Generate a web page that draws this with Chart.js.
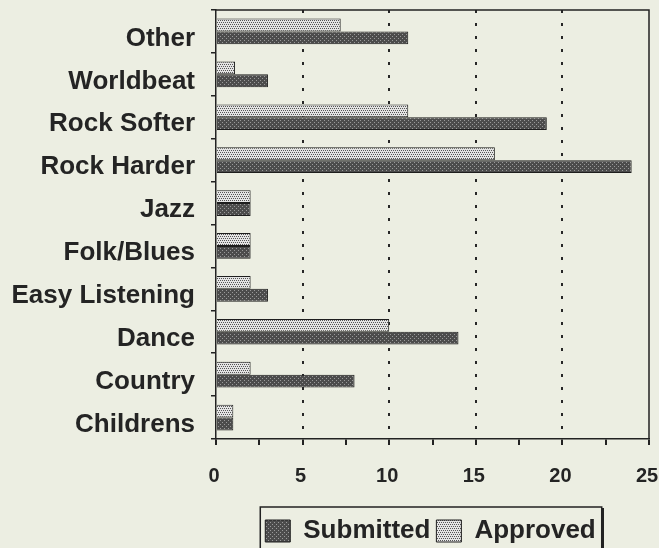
<!DOCTYPE html>
<html>
<head>
<meta charset="utf-8">
<script src="https://cdn.jsdelivr.net/npm/chart.js@4"></script>
<style>
  html, body { margin: 0; padding: 0; background: #eceee2; }
  #wrap { width: 659px; height: 548px; position: relative; }
</style>
</head>
<body>
<div id="wrap"><canvas id="genreChart"></canvas></div>
<script>
// values
const categories = ['Other', 'Worldbeat', 'Rock Softer', 'Rock Harder', 'Jazz',
    'Folk/Blues', 'Easy Listening', 'Dance', 'Country', 'Childrens'];
const approved = [7.2, 1.1, 11.1, 16.1, 2, 2, 2, 10, 2, 1];
const submitted = [11.1, 3, 19.1, 24, 2, 2, 3, 14, 8, 1];
const xTicks = [0, 5, 10, 15, 20, 25];

const inkColor = '#242424';
const paperColor = '#eceee2';

// small dotted fills like the old print patterns
function makePattern(base, dot, spots) {
    const c = document.createElement('canvas');
    c.width = 4;
    c.height = 4;
    const g = c.getContext('2d');
    g.fillStyle = base;
    g.fillRect(0, 0, 4, 4);
    g.fillStyle = dot;
    spots.forEach(p => g.fillRect(p[0], p[1], 1, 1));
    return g.createPattern(c, 'repeat');
}

const submittedFill = makePattern('#4c4c4c', '#9a9a9a', [[0, 0], [2, 2]]);
const approvedFill = makePattern('#e4e4e4', '#555555', [[0, 0], [2, 0], [1, 2], [3, 2]]);

const paperPlugin = {
    id: 'paper',
    beforeDraw(chart) {
        const ctx = chart.ctx;
        ctx.save();
        ctx.fillStyle = paperColor;
        ctx.fillRect(0, 0, chart.width, chart.height);
        ctx.restore();
    }
};

// frame round the plot area + box round the legend
const framePlugin = {
    id: 'frame',
    afterLayout(chart) {
        const lg = chart.legend;
        lg.left += 106;
        lg.right += 106;
    },
    afterDraw(chart) {
        const ctx = chart.ctx;
        const a = chart.chartArea;
        ctx.save();
        ctx.strokeStyle = '#222';
        ctx.lineWidth = 1.5;
        ctx.beginPath();
        ctx.moveTo(a.left, a.top);
        ctx.lineTo(a.right, a.top);
        ctx.lineTo(a.right, a.bottom);
        ctx.stroke();

        const boxes = chart.legend.legendHitBoxes;
        if (boxes && boxes.length) {
            let minX = Infinity, maxX = -Infinity, minY = Infinity;
            boxes.forEach(b => {
                minX = Math.min(minX, b.left);
                maxX = Math.max(maxX, b.left + b.width);
                minY = Math.min(minY, b.top);
            });
            ctx.lineWidth = 1.5;
            ctx.strokeRect(minX - 5, minY - 11, (maxX - minX) + 11, 80);
            ctx.lineWidth = 2.5;
            ctx.beginPath();
            ctx.moveTo(maxX + 7, minY - 10);
            ctx.lineTo(maxX + 7, chart.height);
            ctx.stroke();
        }
        ctx.restore();
    }
};

new Chart(document.getElementById('genreChart'), {
    type: 'bar',
    data: {
        labels: categories,
        datasets: [
            {
                label: 'Approved',
                data: approved,
                backgroundColor: approvedFill,
                borderColor: '#1e1e1e',
                borderWidth: 1
            },
            {
                label: 'Submitted',
                data: submitted,
                backgroundColor: submittedFill,
                borderColor: '#1e1e1e',
                borderWidth: 1
            }
        ]
    },
    options: {
        indexAxis: 'y',
        responsive: true,
        maintainAspectRatio: false,
        animation: false,
        datasets: {
            bar: { categoryPercentage: 0.6, barPercentage: 1.0 }
        },
        layout: {
            padding: { top: 10, right: 10, left: 0, bottom: -6 }
        },
        plugins: {
            tooltip: { enabled: false },
            legend: {
                position: 'bottom',
                reverse: true,
                labels: {
                    boxWidth: 25,
                    boxHeight: 22,
                    padding: 6,
                    color: inkColor,
                    font: { family: 'Liberation Sans, Arial, sans-serif', size: 26, weight: 'bold' }
                }
            }
        },
        scales: {
            x: {
                min: 0,
                max: 25,
                afterFit: (scale) => {
                    scale.height = 73;
                    scale.paddingLeft = 0;
                    scale.paddingRight = 0;
                },
                ticks: {
                    stepSize: 2.5,
                    autoSkip: false,
                    maxRotation: 0,
                    padding: 19,
                    labelOffset: -2,
                    color: inkColor,
                    font: { family: 'Liberation Sans, Arial, sans-serif', size: 20, weight: 'bold' },
                    callback: (val) => xTicks.includes(val) ? String(val) : ''
                },
                grid: {
                    color: (ctx) => {
                        const v = ctx.tick ? ctx.tick.value : 0;
                        return (v % 5 === 0 && v > 0 && v < 25) ? '#262626' : 'rgba(0,0,0,0)';
                    },
                    lineWidth: 2,
                    tickColor: '#222',
                    tickLength: 6,
                    tickBorderDash: [],
                    drawTicks: true
                },
                border: {
                    display: true,
                    color: '#222',
                    width: 1.5,
                    dash: [3, 10]
                }
            },
            y: {
                afterFit: (scale) => {
                    scale.width = 216;
                    scale.paddingTop = 0;
                    scale.paddingBottom = 0;
                },
                ticks: {
                    padding: 16,
                    labelOffset: 7,
                    color: inkColor,
                    font: { family: 'Liberation Sans, Arial, sans-serif', size: 26, weight: 'bold' }
                },
                grid: {
                    drawOnChartArea: false,
                    drawTicks: true,
                    tickLength: 5,
                    color: '#222',
                    lineWidth: 1.5
                },
                border: {
                    display: true,
                    color: '#222',
                    width: 1.5
                }
            }
        }
    },
    plugins: [paperPlugin, framePlugin]
});
</script>
</body>
</html>
